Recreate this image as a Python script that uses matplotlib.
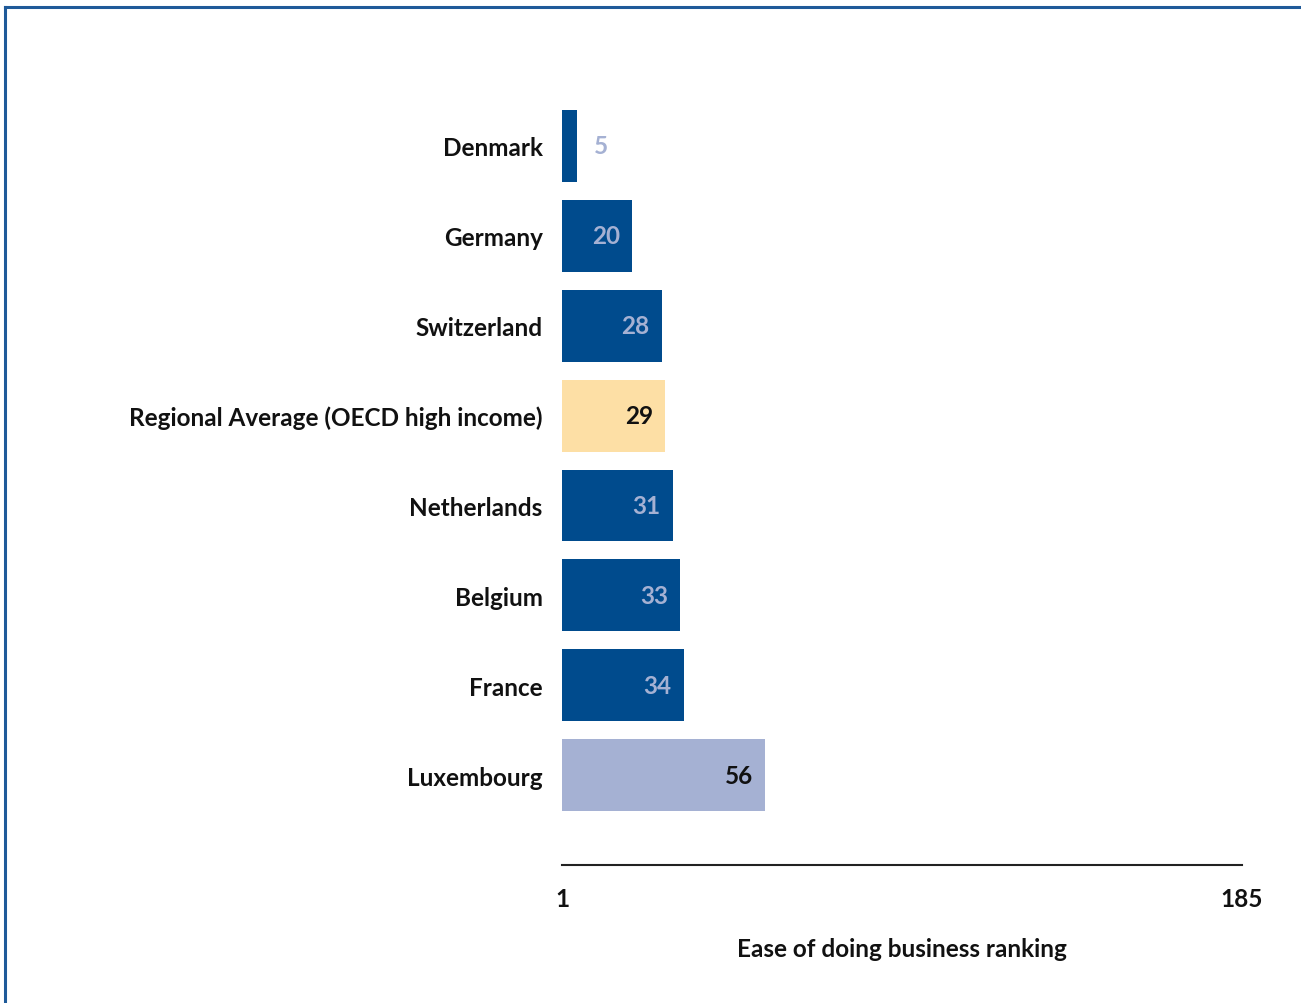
import matplotlib.pyplot as plt
import numpy as np
from matplotlib.lines import Line2D

# data
countries = ['Denmark', 'Germany', 'Switzerland', 'Regional Average (OECD high income)',
             'Netherlands', 'Belgium', 'France', 'Luxembourg']
ranks = [5, 20, 28, 29, 31, 33, 34, 56]
kinds = ['peer', 'peer', 'peer', 'avg', 'peer', 'peer', 'peer', 'self']
rank_min, rank_max = 1, 185

bar_col = {'peer': '#004B8D', 'avg': '#FDDFA5', 'self': '#A5B1D3'}
txt_col = {'peer': '#A5B1D3', 'avg': '#111111', 'self': '#111111'}

plt.rcParams['font.family'] = ['Lato', 'DejaVu Sans']
plt.rcParams['font.weight'] = 'bold'
fs = 17.5

W, H = 1301, 1004
fig = plt.figure(figsize=(W / 100, H / 100), dpi=100)
fig.patch.set_facecolor('white')

# axes placed so rank 1 -> x=562px, rank 185 -> x=1242px, axis line at y=866px
ax = fig.add_axes([562 / W, 1 - 866 / H, (1242 - 562) / W, (866 - 102) / H])

pos = np.arange(len(countries))
widths = [r - rank_min for r in ranks]
ax.barh(pos, widths, left=rank_min, height=0.8,
        color=[bar_col[k] for k in kinds])

for p, r, k in zip(pos, ranks, kinds):
    if r - rank_min < 10:
        ax.annotate(str(r), (r, p), xytext=(12, 0), textcoords='offset points',
                    ha='left', va='center', fontsize=fs, color=txt_col[k])
    else:
        ax.annotate(str(r), (r, p), xytext=(-9, 0), textcoords='offset points',
                    ha='right', va='center', fontsize=fs, color=txt_col[k])

ax.set_xlim(rank_min, rank_max)
ax.set_ylim(8, -0.5)
ax.set_yticks(pos)
ax.set_yticklabels(countries, fontsize=fs, color='#111111')
ax.set_xticks([rank_min, rank_max])
ax.set_xticklabels([str(rank_min), str(rank_max)], fontsize=fs, color='#111111')
ax.tick_params(axis='y', length=0, pad=14)
ax.tick_params(axis='x', length=0, pad=16)
ax.set_xlabel('Ease of doing business ranking', fontsize=fs, fontweight='bold',
              color='#111111', labelpad=19)

for s in ['top', 'right', 'left']:
    ax.spines[s].set_visible(False)
ax.spines['bottom'].set_color('#222222')
ax.spines['bottom'].set_linewidth(1.5)

# blue frame on the left and top edges
fig.add_artist(Line2D([5 / W, 5 / W], [0, 1 - 8 / H], color='#1F5A99', lw=2.2))
fig.add_artist(Line2D([5 / W, 1], [1 - 8 / H, 1 - 8 / H], color='#1F5A99', lw=2.2))

fig.savefig('out.png', dpi=100)
